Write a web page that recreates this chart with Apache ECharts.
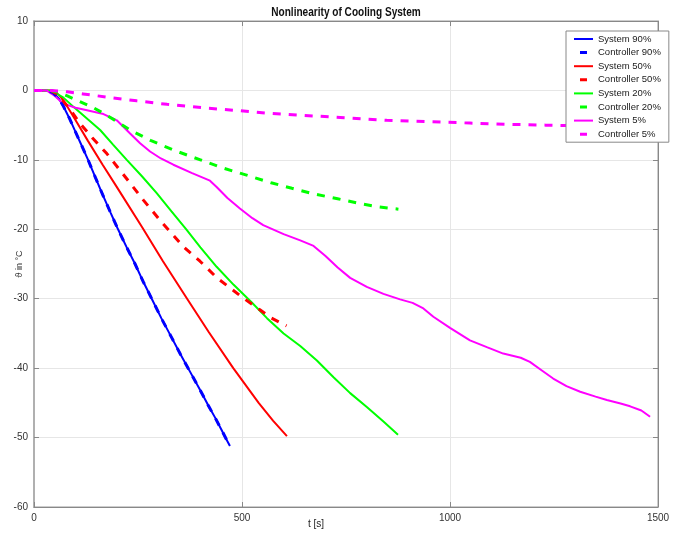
<!DOCTYPE html>
<html><head><meta charset="utf-8">
<script src="https://cdn.jsdelivr.net/npm/echarts@6/dist/echarts.min.js"></script>
<style>html,body{margin:0;padding:0;background:#fff}#c{width:673px;height:533px}</style>
</head><body><div id="c"></div>
<script>
const titleText = 'Nonlinearity of Cooling System';
const xName = 't [s]';
const yName = 'ϑ in °C';
const seriesNames = ['System 90%','Controller 90%','System 50%','Controller 50%','System 20%','Controller 20%','System 5%','Controller 5%'];

const sys90 = [[0,0],[30,0],[45,-0.3],[60,-1.2],[70,-2.2],[85,-4],[100,-6],[115,-8],[130,-10],[148,-12.6],[165,-15],[184,-17.6],[202,-20],[222,-22.5],[243,-25],[263,-27.6],[283,-30],[306,-32.8],[330,-35.5],[352,-38],[375,-40.5],[398,-43],[420,-45.5],[436,-47.2],[450,-48.8],[462,-50.2],[471,-51.2]];
const ctl90 = [[0,0],[30,0],[45,-0.3],[60,-1.2],[70,-2.2],[85,-4],[100,-6],[115,-8],[130,-10],[148,-12.6],[165,-15],[184,-17.6],[202,-20],[222,-22.5],[243,-25],[263,-27.6],[283,-30],[306,-32.8],[330,-35.5],[352,-38],[375,-40.5],[398,-43],[420,-45.5],[436,-47.2],[450,-48.8],[462,-50.2],[471,-51.2]];
const sys50 = [[0,0],[40,0],[55,-0.4],[65,-1],[80,-2.3],[100,-4.3],[130,-7.3],[165,-10.7],[200,-14],[260,-19.7],[310,-24.6],[368,-30],[420,-34.8],[479,-40],[540,-45],[575,-47.6],[608,-49.8]];
const ctl50 = [[0,0],[40,0],[55,-0.5],[70,-1.5],[90,-3],[110,-4.7],[140,-6.8],[175,-9.1],[220,-12.5],[263,-15.8],[310,-19.2],[359,-22.5],[399,-24.6],[440,-27],[503,-29.9],[543,-31.6],[571,-32.8],[607,-33.9]];
const sys20 = [[0,0],[40,0],[50,-0.3],[70,-1],[103,-2.8],[130,-4.2],[159,-5.7],[190,-7.8],[223,-10],[260,-12.4],[295,-14.8],[330,-17.4],[367,-20.1],[400,-22.6],[439,-25.4],[480,-28],[523,-30.5],[560,-32.8],[600,-35],[640,-36.8],[680,-38.9],[720,-41.3],[760,-43.6],[800,-45.6],[840,-47.7],[875,-49.6]];
const ctl20 = [[0,0],[40,0],[60,-0.3],[80,-0.8],[110,-1.6],[140,-2.4],[167,-3.3],[200,-4.5],[231,-5.7],[280,-7.2],[340,-8.7],[400,-10],[450,-11.1],[511,-12.2],[570,-13.3],[620,-14.1],[672,-14.9],[730,-15.6],[784,-16.3],[830,-16.8],[876,-17.1]];
const sys5 = [[0,0],[30,0],[50,-0.8],[70,-1.9],[100,-2.5],[130,-2.9],[167,-3.4],[199,-4.3],[231,-6.2],[255,-7.6],[279,-8.8],[305,-9.8],[335,-10.7],[380,-11.9],[423,-13],[439,-13.9],[465,-15.5],[495,-17],[525,-18.4],[551,-19.4],[600,-20.7],[640,-21.6],[672,-22.4],[700,-23.8],[730,-25.5],[760,-27],[800,-28.3],[840,-29.3],[880,-30.1],[910,-30.6],[936,-31.4],[960,-32.6],[1000,-34.2],[1048,-36],[1090,-37],[1128,-37.9],[1170,-38.5],[1192,-39.1],[1220,-40.3],[1248,-41.5],[1280,-42.6],[1313,-43.4],[1350,-44.1],[1377,-44.6],[1410,-45.1],[1433,-45.5],[1460,-46.1],[1481,-47]];
const ctl5 = [[0,0],[40,0],[80,-0.2],[118,-0.5],[180,-1],[247,-1.5],[320,-2],[407,-2.5],[490,-2.9],[567,-3.3],[650,-3.6],[736,-3.9],[848,-4.3],[950,-4.5],[1048,-4.7],[1150,-4.9],[1230,-5],[1310,-5.1]];

const seriesData = [sys90, ctl90, sys50, ctl50, sys20, ctl20, sys5, ctl5];
const colors = ['#0000ff','#0000ff','#ff0000','#ff0000','#00ff00','#00ff00','#ff00ff','#ff00ff'];

const FONT = "'Liberation Sans',Arial,sans-serif";
const chart = echarts.init(document.getElementById('c'), null, {renderer:'canvas'});

const ICON_SOLID = 'path://M0,0H19V2H0Z';
const ICON_DASH = 'path://M0,0L0.01,0L0,0.01Z M6,0H13V3H6Z M19,3L19.01,3L19,2.99Z';

const series = seriesNames.map((n,i)=>{
  const dashed = n.startsWith('Controller');
  return {
    name:n, type:'line', data:seriesData[i], symbol:'none', showSymbol:false, smooth:false,
    xAxisIndex:0, yAxisIndex:0,
    lineStyle:{color:colors[i], width: dashed?3:2, type: dashed?[8,8]:'solid'},
    itemStyle:{color:colors[i]},
    animation:false, z: dashed?3:2
  };
});

const legendData = seriesNames.map((n)=>({name:n, icon: n.startsWith('Controller') ? ICON_DASH : ICON_SOLID}));

const axisLbl = {fontFamily:FONT, fontSize:10, color:'#333'};
chart.setOption({
  backgroundColor:'#fff',
  animation:false,
  graphic:[{type:'text', x:346, y:7, scaleX:0.84, originX:0,
    style:{text:titleText, font:"bold 12px 'Liberation Sans',Arial,sans-serif", fill:'#111', align:'center', verticalAlign:'top'}}],
  grid:{left:34, right:15, top:21, bottom:26, show:true, borderColor:'#9a9a9a', borderWidth:1, containLabel:false, outerBoundsMode:'none'},
  legend:{
    orient:'vertical', left:566, top:31, data:legendData,
    itemWidth:19, itemHeight:10, itemGap:3.6, symbolKeepAspect:true,
    padding:[3,8,3,8],
    backgroundColor:'#fff', borderColor:'#888', borderWidth:1, borderRadius:0,
    textStyle:{fontFamily:FONT, fontSize:9.5, color:'#1a1a1a', lineHeight:10},
    z:10
  },
  xAxis:[
    {type:'value', min:0, max:1500, interval:500, position:'bottom',
     name:xName, nameLocation:'middle', nameGap:12, nameMoveOverlap:false,
     nameTextStyle:{fontFamily:FONT, fontSize:10, color:'#222', padding:[0,60,0,0]},
     axisLine:{show:true, onZero:false, lineStyle:{color:'#888'}},
     axisTick:{show:true, inside:true, length:5, lineStyle:{color:'#888'}},
     axisLabel:{...axisLbl, margin:6, formatter:(v)=>String(v)},
     splitLine:{show:true, lineStyle:{color:'#e6e6e6'}}},
    {type:'value', min:0, max:1500, interval:500, position:'top',
     axisLine:{show:true, onZero:false, lineStyle:{color:'#888'}},
     axisTick:{show:true, inside:true, length:5, lineStyle:{color:'#888'}},
     axisLabel:{show:false}, splitLine:{show:false}}
  ],
  yAxis:[
    {type:'value', min:-60, max:10, interval:10, position:'left',
     name:yName, nameLocation:'middle', nameGap:10, nameMoveOverlap:false,
     nameTextStyle:{fontFamily:FONT, fontSize:9, color:'#333'},
     axisLine:{show:true, onZero:false, lineStyle:{color:'#b0b0b0', width:2}},
     axisTick:{show:true, inside:true, length:5, lineStyle:{color:'#888'}},
     axisLabel:{...axisLbl, margin:6},
     splitLine:{show:true, lineStyle:{color:'#e6e6e6'}}},
    {type:'value', min:-60, max:10, interval:10, position:'right',
     axisLine:{show:true, onZero:false, lineStyle:{color:'#888'}},
     axisTick:{show:true, inside:true, length:5, lineStyle:{color:'#888'}},
     axisLabel:{show:false}, splitLine:{show:false}}
  ],
  series:series
});
</script></body></html>
